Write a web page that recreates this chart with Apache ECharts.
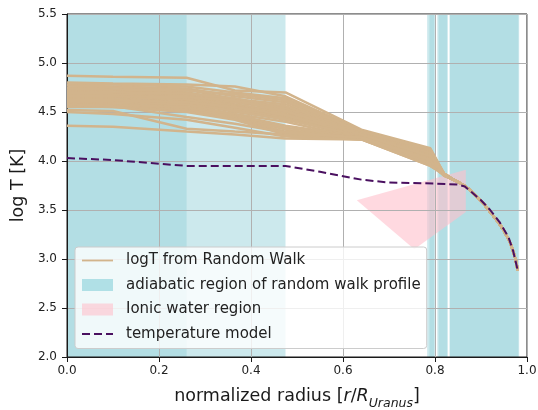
<!DOCTYPE html>
<html><head><meta charset="utf-8">
<script src="https://cdn.jsdelivr.net/npm/echarts@6/dist/echarts.min.js"></script>
<style>html,body{margin:0;padding:0;background:#fff}#c{width:538px;height:410px}</style>
</head><body><div id="c"></div>
<script>
// Random-walk logT profiles: values at rwX, then a shared tail
const rwX = [0, 0.1, 0.26, 0.365, 0.475, 0.64, 0.79, 0.82];
const rwProfiles = [
  [4.87, 4.86, 4.85, 4.72, 4.70, 4.32, 4.13, 3.87],
  [4.80, 4.79, 4.78, 4.76, 4.66, 4.31, 4.12, 3.86],
  [4.78, 4.78, 4.76, 4.70, 4.64, 4.30, 4.11, 3.87],
  [4.77, 4.76, 4.74, 4.66, 4.60, 4.30, 4.10, 3.86],
  [4.75, 4.75, 4.73, 4.63, 4.58, 4.29, 4.09, 3.85],
  [4.74, 4.73, 4.70, 4.62, 4.55, 4.28, 4.08, 3.86],
  [4.72, 4.72, 4.70, 4.60, 4.52, 4.28, 4.07, 3.87],
  [4.71, 4.70, 4.68, 4.58, 4.50, 4.27, 4.06, 3.86],
  [4.70, 4.69, 4.66, 4.60, 4.56, 4.29, 4.10, 3.85],
  [4.69, 4.68, 4.65, 4.57, 4.48, 4.27, 4.05, 3.86],
  [4.68, 4.68, 4.66, 4.55, 4.47, 4.26, 4.04, 3.87],
  [4.67, 4.66, 4.64, 4.56, 4.46, 4.26, 4.03, 3.86],
  [4.66, 4.65, 4.62, 4.54, 4.45, 4.25, 4.02, 3.85],
  [4.65, 4.65, 4.63, 4.52, 4.44, 4.25, 4.01, 3.86],
  [4.64, 4.63, 4.60, 4.53, 4.44, 4.24, 4.00, 3.87],
  [4.63, 4.62, 4.60, 4.50, 4.43, 4.24, 3.99, 3.86],
  [4.62, 4.61, 4.58, 4.51, 4.42, 4.26, 4.07, 3.85],
  [4.61, 4.60, 4.57, 4.48, 4.40, 4.23, 3.98, 3.86],
  [4.60, 4.60, 4.58, 4.47, 4.36, 4.25, 4.04, 3.87],
  [4.59, 4.58, 4.55, 4.46, 4.34, 4.24, 4.02, 3.86],
  [4.58, 4.57, 4.53, 4.45, 4.32, 4.23, 3.97, 3.85],
  [4.57, 4.57, 4.55, 4.44, 4.30, 4.24, 4.00, 3.86],
  [4.56, 4.55, 4.52, 4.43, 4.28, 4.23, 3.96, 3.87],
  [4.55, 4.55, 4.50, 4.42, 4.27, 4.22, 3.95, 3.86],
  [4.62, 4.62, 4.60, 4.55, 4.47, 4.27, 4.08, 3.85],
  [4.74, 4.73, 4.72, 4.68, 4.62, 4.30, 4.12, 3.86],
  [4.70, 4.70, 4.69, 4.64, 4.53, 4.28, 4.06, 3.87],
  [4.52, 4.51, 4.33, 4.30, 4.27, 4.23, 3.99, 3.86],
  [4.50, 4.48, 4.42, 4.34, 4.25, 4.22, 3.97, 3.85],
  [4.36, 4.35, 4.30, 4.27, 4.23, 4.22, 3.95, 3.86],
  [4.58, 4.56, 4.45, 4.38, 4.29, 4.24, 4.01, 3.87],
  [4.66, 4.66, 4.65, 4.62, 4.51, 4.27, 4.05, 3.86]
];
const rwTailX = [0.84, 0.86, 0.875, 0.89, 0.905, 0.92, 0.935, 0.95, 0.965, 0.975, 0.98];
const rwTailY = [3.81, 3.76, 3.71, 3.64, 3.57, 3.48, 3.39, 3.29, 3.15, 3.00, 2.88];

// Temperature model
const modelX = [0, 0.1, 0.26, 0.475, 0.55, 0.64, 0.7, 0.8, 0.85, 0.865, 0.88, 0.9, 0.92, 0.94, 0.96, 0.97, 0.98];
const modelY = [4.03, 4.01, 3.95, 3.95, 3.89, 3.81, 3.78, 3.77, 3.76, 3.74, 3.68, 3.60, 3.50, 3.38, 3.22, 3.08, 2.88];

// Adiabatic regions (x spans)
const adiabaticStart = [0, 0, 0.783, 0.788, 0.805, 0.808, 0.832, 0.832];
const adiabaticEnd   = [0.475, 0.26, 0.800, 0.798, 0.828, 0.826, 0.983, 0.981];

// Ionic water region polygon
const ionicX = [0.63, 0.867, 0.867, 0.755];
const ionicY = [3.60, 3.91, 3.48, 3.10];

// Axis ticks
const xTicks = [0, 0.2, 0.4, 0.6, 0.8, 1.0];
const yTicks = [2.0, 2.5, 3.0, 3.5, 4.0, 4.5, 5.0, 5.5];

const FONT = 'DejaVu Sans';
const RW_NAME = 'logT from Random Walk';
const AD_NAME = 'adiabatic region of random walk profile';
const ION_NAME = 'Ionic water region';
const MOD_NAME = 'temperature model';
const TAN = '#d2b48c';
const MODEL_C = '#4a1060';
const AD_FILL = 'rgba(154,212,220,0.5)';
const ION_FILL = 'rgba(255,192,203,0.6)';

const chart = echarts.init(document.getElementById('c'), null, {renderer: 'canvas'});

const series = [];
series.push({
  name: AD_NAME, type: 'custom', z: -1, silent: true, animation: false,
  itemStyle: {color: '#b0e0e6'},
  data: adiabaticStart.map((s, i) => [s, adiabaticEnd[i]]),
  encode: {x: [0, 1]},
  renderItem: function (params, api) {
    const p0 = api.coord([api.value(0), yTicks[yTicks.length - 1]]);
    const p1 = api.coord([api.value(1), yTicks[0]]);
    return {type: 'rect', shape: {x: p0[0], y: p0[1], width: p1[0] - p0[0], height: p1[1] - p0[1]},
      style: {fill: AD_FILL}};
  }
});
series.push({
  name: ION_NAME, type: 'custom', z: -0.5, silent: true, animation: false,
  itemStyle: {color: ION_FILL},
  data: ionicX.map((x, i) => [x, ionicY[i]]),
  renderItem: function (params, api) {
    if (params.dataIndex !== 0) return null;
    const pts = ionicX.map((x, i) => api.coord([x, ionicY[i]]));
    return {type: 'polygon', shape: {points: pts}, style: {fill: ION_FILL}};
  }
});
rwProfiles.forEach(p => {
  const data = rwX.map((x, i) => [x, p[i]]).concat(rwTailX.map((x, i) => [x, rwTailY[i]]));
  series.push({
    name: RW_NAME, type: 'line', data: data, symbol: 'none', z: 2, silent: true, animation: false,
    itemStyle: {color: TAN},
    lineStyle: {color: TAN, width: 2.5}
  });
});
series.push({
  name: MOD_NAME, type: 'line', data: modelX.map((x, i) => [x, modelY[i]]), symbol: 'none', z: 3,
  silent: true, animation: false, smooth: false,
  itemStyle: {color: MODEL_C},
  lineStyle: {color: MODEL_C, width: 2, type: [8, 4]}
});

const option = {
  backgroundColor: '#fff',
  animation: false,
  textStyle: {fontFamily: FONT},
  grid: {left: 67, right: 11, top: 14, bottom: 53, containLabel: false, outerBoundsMode: 'none',
    show: true, borderColor: '#1a1a1a', borderWidth: 1, backgroundColor: 'transparent'},
  xAxis: {
    type: 'value', min: 0, max: 1, interval: 0.2,
    name: '{n|normalized radius [}{i|r}{n|/}{i|R}{s|Uranus}{n|]}',
    nameLocation: 'middle', nameGap: 26,
    nameTextStyle: {
      rich: {
        n: {fontSize: 17.5, fontFamily: FONT, color: '#1a1a1a', lineHeight: 22, verticalAlign: 'bottom'},
        i: {fontSize: 17.5, fontFamily: FONT, fontStyle: 'italic', color: '#1a1a1a', lineHeight: 22, verticalAlign: 'bottom'},
        s: {fontSize: 12.5, fontFamily: FONT, fontStyle: 'italic', color: '#1a1a1a', lineHeight: 22, verticalAlign: 'bottom', padding: [0, 0, -5, 0]}
      }
    },
    axisLine: {lineStyle: {color: '#1a1a1a', width: 1}},
    axisTick: {show: true, inside: false, length: 5, lineStyle: {color: '#1a1a1a'}},
    axisLabel: {fontSize: 12, color: '#222', fontFamily: FONT, margin: 8, formatter: v => v.toFixed(1), showMaxLabel: true, showMinLabel: true},
    splitLine: {show: true, lineStyle: {color: '#b0b0b0', width: 1}}
  },
  yAxis: {
    type: 'value', min: 2, max: 5.5, interval: 0.5,
    name: 'log T [K]', nameLocation: 'middle', nameGap: 28,
    nameTextStyle: {fontSize: 17.5, fontFamily: FONT, color: '#1a1a1a'},
    axisLine: {show: true, lineStyle: {color: '#1a1a1a', width: 1}},
    axisTick: {show: true, inside: false, length: 5, lineStyle: {color: '#1a1a1a'}},
    axisLabel: {fontSize: 12, color: '#222', fontFamily: FONT, margin: 10, formatter: v => v.toFixed(1)},
    splitLine: {show: true, lineStyle: {color: '#b0b0b0', width: 1}}
  },
  legend: {
    orient: 'vertical', left: 75, top: 247,
    padding: [5, 6, 6, 6],
    itemGap: 7.5, itemWidth: 31, itemHeight: 12,
    backgroundColor: 'rgba(255,255,255,0.8)', borderColor: '#cccccc', borderWidth: 1, borderRadius: 3,
    selectedMode: false,
    textStyle: {fontSize: 15, fontFamily: FONT, color: '#222', lineHeight: 17},
    formatter: name => '{t|' + name + '}',
    data: [
      {name: RW_NAME, icon: 'line', itemStyle: {color: TAN, borderColor: TAN, borderWidth: 1.8}},
      {name: AD_NAME, icon: 'rect', itemStyle: {color: '#b0e0e6', borderWidth: 0}},
      {name: ION_NAME, icon: 'rect', itemStyle: {color: ION_FILL, borderWidth: 0}},
      {name: MOD_NAME, icon: 'line', itemStyle: {color: MODEL_C, borderColor: MODEL_C, borderWidth: 2, borderType: [8, 4]}}
    ]
  },
  series: series
};
option.legend.textStyle.rich = {t: {fontSize: 15, fontFamily: FONT, color: '#222', lineHeight: 17, padding: [0, 0, 0, 8]}};
chart.setOption(option);
</script></body></html>
